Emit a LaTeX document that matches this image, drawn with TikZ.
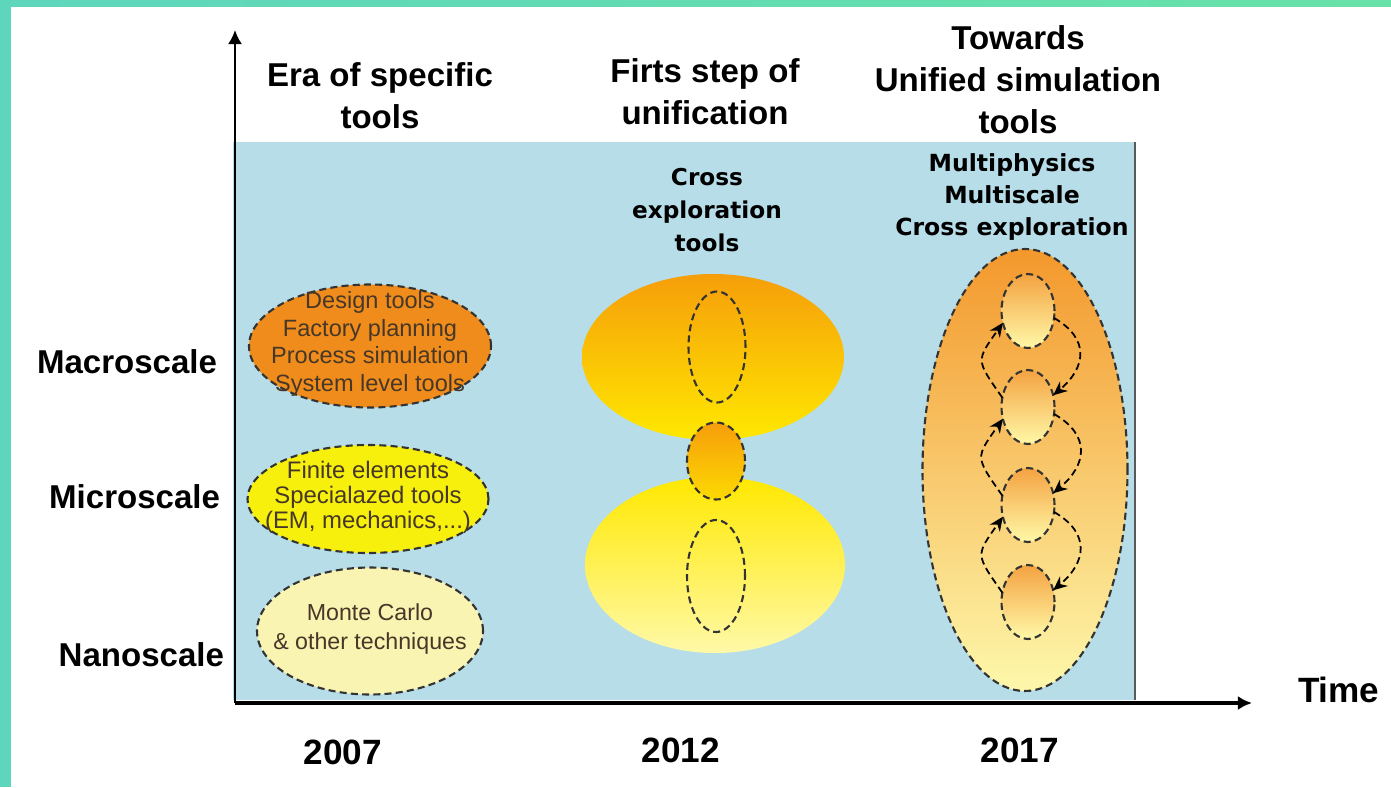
\documentclass[tikz,border=0pt]{standalone}
\usepackage{fontspec}
\newfontfamily\arialfont{Liberation Sans}
\newfontfamily\dejafont{DejaVu Sans}
\usetikzlibrary{positioning, arrows.meta, shapes.geometric}

\definecolor{frameteal}{RGB}{94,214,188}
\definecolor{framegreen}{RGB}{104,226,168}
\definecolor{panelblue}{RGB}{182,221,232}
\definecolor{macroorange}{RGB}{240,140,28}
\definecolor{microyellow}{RGB}{246,240,12}
\definecolor{nanopale}{RGB}{250,244,178}
\definecolor{deeporange}{RGB}{246,158,10}
\definecolor{warmyellow}{RGB}{255,232,0}
\definecolor{lightyellow}{RGB}{255,249,168}
\definecolor{softorange}{RGB}{243,152,44}
\definecolor{inktext}{RGB}{70,55,40}

\begin{document}
\begin{tikzpicture}[
    every node/.style = {inner sep=0pt, outer sep=0pt},
    head/.style = {font=\arialfont\bfseries\fontsize{9.4}{12}\selectfont, align=center},
    scalelbl/.style = {font=\arialfont\bfseries\fontsize{9.4}{12}\selectfont, anchor=east},
    year/.style = {font=\arialfont\bfseries\fontsize{10}{12}\selectfont},
    note/.style = {font=\dejafont\bfseries\fontsize{6.6}{9.3}\selectfont, align=center},
    tooltxt/.style = {font=\arialfont\fontsize{6.7}{7.7}\selectfont, align=center, text=inktext},
    cloud/.style = {ellipse},
    outline/.style = {ellipse, draw=black!80, line width=0.6pt, dash pattern=on 2pt off 1.2pt},
    axisarr/.style = {-{Latex[length=4pt,width=4pt]}},
    flow/.style = {line width=0.5pt, dash pattern=on 2pt off 1.2pt, -{Stealth[length=4pt,width=3.5pt]}},
]
\useasboundingbox (0,0) rectangle (13.91,7.87);
% frame
\fill[white] (0,0) rectangle (13.91,7.87);
\fill[frameteal] (0,0) rectangle (0.11,7.87);
\shade[left color=frameteal, right color=framegreen] (0,7.81) rectangle (13.91,7.87);

% panel and axes
\fill[panelblue] (2.33,0.87) rectangle (11.35,6.45);
\draw[gray!70!black, line width=0.5pt] (11.35,0.87) -- (11.35,6.45);
\coordinate (O) at (2.35,0.84);
\coordinate (ytop) at (2.35,7.57);
\coordinate (xend) at (12.52,0.84);
\draw[axisarr, line width=0.6pt] (O) -- (ytop);
\draw[axisarr, line width=0.9pt] (O) -- (xend);
\node[year, anchor=west] (time) at (12.98,0.97) {Time};

% years
\node[year] (y2007) at (3.43,0.35) {2007};
\node[year] (y2012) at (6.81,0.37) {2012};
\node[year] (y2017) at (10.20,0.37) {2017};

% headers
\node[head] (era) at (3.80,6.91) {Era of specific\\tools};
\node[head] (firts) at (7.05,6.95) {Firts step of\\unification};
\node[head] (towards) at (10.18,7.07) {Towards\\Unified simulation\\tools};

% scales
\node[scalelbl] (macro) at (2.17,4.25) {Macroscale};
\node[scalelbl] (micro) at (2.20,2.90) {Microscale};
\node[scalelbl] (nano) at (2.24,1.32) {Nanoscale};

% 2007: specific tools
\node[outline, fill=macroorange, minimum width=2.42cm, minimum height=1.23cm] (design) at (3.70,4.41) {};
\node[tooltxt, font=\arialfont\fontsize{6.7}{7.85}\selectfont] at (3.70,4.43) {Design tools\\Factory planning\\Process simulation\\System level tools};
\node[outline, fill=microyellow, minimum width=2.41cm, minimum height=1.08cm] (finite) at (3.68,2.88) {};
\node[tooltxt, font=\arialfont\fontsize{6.8}{7.1}\selectfont] at (3.68,2.90) {Finite elements\\Specialazed tools\\(EM, mechanics,...)};
\node[outline, fill=nanopale, minimum width=2.26cm, minimum height=1.27cm] (monte) at (3.70,1.56) {};
\node[tooltxt, font=\arialfont\fontsize{6.6}{8.2}\selectfont] at (3.70,1.58) {Monte Carlo\\\& other techniques};

% 2012: cross exploration
\node[note] (cross) at (7.07,5.77) {Cross\\exploration\\tools};
\node[cloud, top color=deeporange, bottom color=warmyellow, minimum width=2.62cm, minimum height=1.66cm] (upcloud) at (7.13,4.30) {};
\node[cloud, top color=warmyellow, bottom color=lightyellow, minimum width=2.60cm, minimum height=1.76cm] (lowcloud) at (7.15,2.22) {};
\node[outline, minimum width=0.57cm, minimum height=1.11cm] (upring) at (7.17,4.40) {};
\node[outline, top color=deeporange, bottom color=warmyellow!80!deeporange, minimum width=0.58cm, minimum height=0.77cm] (midring) at (7.16,3.26) {};
\node[outline, minimum width=0.58cm, minimum height=1.12cm] (lowring) at (7.16,2.11) {};

% 2017: unified tools
\node[note, font=\dejafont\bfseries\fontsize{6.7}{9.2}\selectfont] (multi) at (10.12,5.90) {Multiphysics\\Multiscale\\Cross exploration};
\node[outline, top color=softorange, bottom color=lightyellow!70!nanopale, minimum width=2.05cm, minimum height=4.42cm] (unified) at (10.25,3.17) {};
\foreach \i/\y in {1/4.76, 2/3.80, 3/2.82, 4/1.85}
    \node[outline, top color=softorange!90!white, bottom color=lightyellow, minimum width=0.53cm, minimum height=0.74cm] (s\i) at (10.28,\y) {};
\foreach \a/\b in {1/2, 2/3, 3/4} {
    \draw[flow] (s\a.-15) to[out=-30, in=40, looseness=1.4] (s\b.25);
    \draw[flow] (s\b.160) to[out=125, in=-125, looseness=1.6] (s\a.-155);
}
\end{tikzpicture}
\end{document}
